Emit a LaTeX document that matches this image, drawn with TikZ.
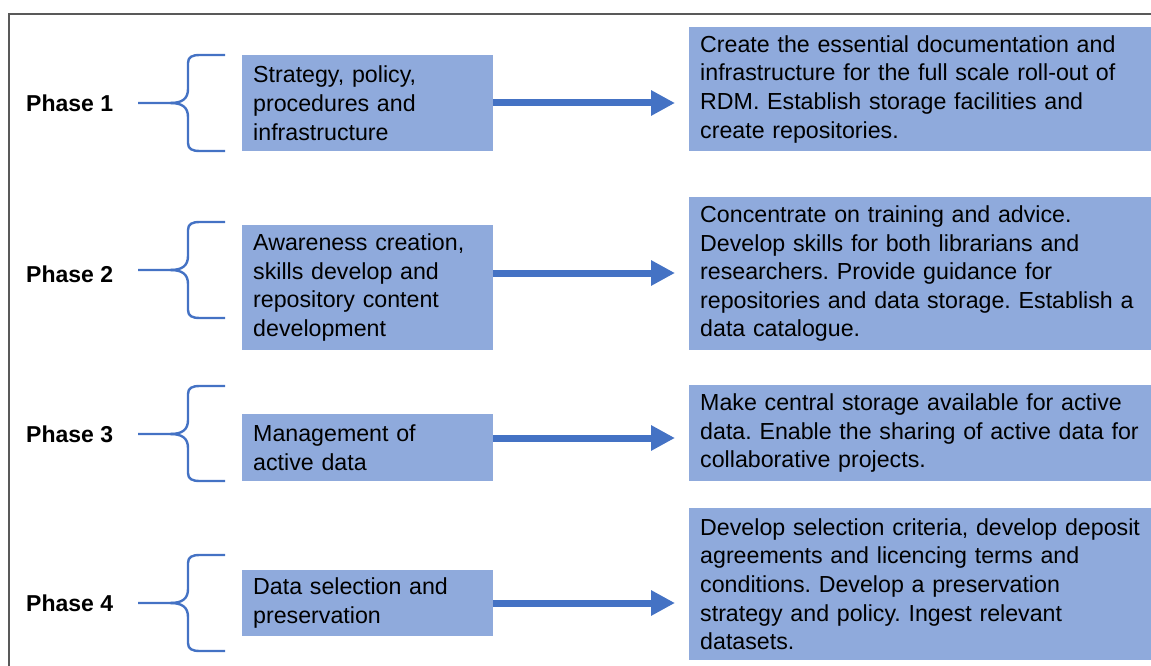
\documentclass[tikz,border=0pt]{standalone}
\usepackage{fontspec}
\setmainfont{Liberation Sans}
\usetikzlibrary{arrows.meta}
\definecolor{boxfill}{HTML}{8FAADC}
\definecolor{accent}{HTML}{4472C4}
\definecolor{frame}{HTML}{595959}
\frenchspacing
\begin{document}
\begin{tikzpicture}[x=1pt,y=-1pt,
  every node/.style={font=\fontsize{23.2}{28.6}\selectfont, text=black},
  lbox/.style={fill=boxfill, anchor=north west, minimum width=251pt, text width=229pt, inner xsep=11pt, inner ysep=2pt, align=left},
  rbox/.style={fill=boxfill, anchor=north west, minimum width=475pt, text width=453pt, inner xsep=10pt, inner ysep=2pt, align=left},
  phase/.style={font=\fontsize{23}{26}\selectfont\bfseries, anchor=west, inner sep=0pt},
  bracepath/.style={draw=accent, line width=2.4pt},
  flow/.style={draw=accent, line width=7pt, -{Triangle[length=24pt,width=24pt]}, shorten >=14pt}
]
\useasboundingbox (0,0) rectangle (1151,666);
\draw[frame, line width=1.6pt] (9,680) -- (9,14) -- (1160,14);

% Phase labels
\node[phase] (p1) at (26,103) {Phase 1};
\node[phase] (p2) at (26,274) {Phase 2};
\node[phase] (p3) at (26,434) {Phase 3};
\node[phase] (p4) at (26,603) {Phase 4};

% Left boxes
\node[lbox, minimum height=96pt] (l1) at (242,55) {Strategy, policy,\\procedures and\\infrastructure};
\node[lbox, minimum height=125pt] (l2) at (242,225) {Awareness creation,\\skills develop and\\repository content\\development};
\node[lbox, minimum height=67pt] (l3) at (242,414) {Management of\\active data};
\node[lbox, minimum height=66pt] (l4) at (242,570) {Data selection and\\preservation};

% Right boxes
\node[rbox, minimum height=124pt] (r1) at (689,27) {Create the essential documentation and\\infrastructure for the full scale roll-out of\\RDM. Establish storage facilities and\\create repositories.};
\node[rbox, minimum height=153pt] (r2) at (689,197) {Concentrate on training and advice.\\Develop skills for both librarians and\\researchers. Provide guidance for\\repositories and data storage. Establish a\\data catalogue.};
\node[rbox, minimum height=96pt] (r3) at (689,385) {Make central storage available for active\\data. Enable the sharing of active data for\\collaborative projects.};
\node[rbox, minimum height=152pt] (r4) at (689,508) {Develop selection criteria, develop deposit\\agreements and licencing terms and\\conditions. Develop a preservation\\strategy and policy. Ingest relevant\\datasets.};

% Braces: (top y, mid y, bottom y)
\foreach \t/\m/\b in {55/103/151, 222/270/318, 386/434/481, 555/603/651}{
  \draw[bracepath] (138,\m) -- (170,\m)
     .. controls (182,\m) and (188,\m-4) .. (188,\m-14)
     -- (188,\t+8) .. controls (188,\t+2) and (192,\t) .. (200,\t) -- (225,\t);
  \draw[bracepath] (170,\m)
     .. controls (182,\m) and (188,\m+4) .. (188,\m+14)
     -- (188,\b-8) .. controls (188,\b-2) and (192,\b) .. (200,\b) -- (225,\b);
}

% Arrows
\coordinate (a1) at (0,103);
\coordinate (a2) at (0,273);
\coordinate (a3) at (0,438);
\coordinate (a4) at (0,603);
\draw[flow] (l1.east |- a1) -- (r1.west |- a1);
\draw[flow] (l2.east |- a2) -- (r2.west |- a2);
\draw[flow] (l3.east |- a3) -- (r3.west |- a3);
\draw[flow] (l4.east |- a4) -- (r4.west |- a4);
\end{tikzpicture}
\end{document}
